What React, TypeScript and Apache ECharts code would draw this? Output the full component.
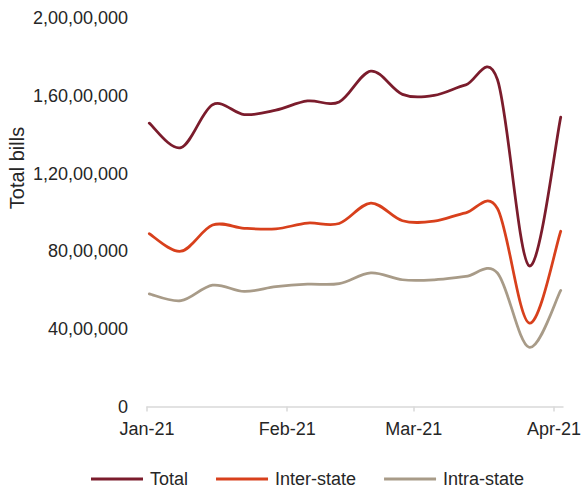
import React, { useEffect, useRef } from "react";
import * as echarts from "echarts";

const dates = [
  "2021-01-01", "2021-01-08", "2021-01-15", "2021-01-22", "2021-01-29",
  "2021-02-05", "2021-02-12", "2021-02-19", "2021-02-26",
  "2021-03-05", "2021-03-12", "2021-03-19", "2021-03-26", "2021-04-02",
];
const totalBills = [
  14600000, 13340000, 15550000, 15040000, 15270000, 15740000, 15690000,
  17280000, 16080000, 16030000, 16570000, 16850000, 7250000, 14910000,
];
const interState = [
  8900000, 8000000, 9350000, 9180000, 9150000, 9450000, 9430000,
  10480000, 9570000, 9550000, 9980000, 10200000, 4300000, 9030000,
];
const intraState = [
  5800000, 5450000, 6250000, 5930000, 6170000, 6300000, 6330000,
  6880000, 6530000, 6530000, 6700000, 6880000, 3050000, 5980000,
];
const monthTicks = ["2021-01-01", "2021-02-01", "2021-03-01", "2021-04-01"];
const monthLabels = ["Jan-21", "Feb-21", "Mar-21", "Apr-21"];
const axisStart = "2021-01-01";
const axisEnd = "2021-04-03";
const seriesNames = ["Total", "Inter-state", "Intra-state"];
const colors = ["#7B1C2C", "#D8401C", "#A89B88"];

const DAY = 86400000;
function dayIndex(s: string): number {
  const [y, m, d] = s.split("-").map(Number);
  const [y0, m0, d0] = axisStart.split("-").map(Number);
  return Math.round((Date.UTC(y, m - 1, d) - Date.UTC(y0, m0 - 1, d0)) / DAY);
}

function indian(v: number): string {
  const s = Math.round(v).toString();
  if (s.length <= 3) return s;
  const last3 = s.slice(-3);
  let rest = s.slice(0, -3);
  const parts: string[] = [];
  while (rest.length > 2) {
    parts.unshift(rest.slice(-2));
    rest = rest.slice(0, -2);
  }
  if (rest.length) parts.unshift(rest);
  return parts.join(",") + "," + last3;
}

// Smooth (Catmull-Rom style) path through pixel points given by the chart's scales
function smoothPath(pts: number[][]): string {
  const n = pts.length;
  let d = `M${pts[0][0]},${pts[0][1]}`;
  for (let i = 0; i < n - 1; i++) {
    const p0 = pts[Math.max(0, i - 1)];
    const p1 = pts[i];
    const p2 = pts[i + 1];
    const p3 = pts[Math.min(n - 1, i + 2)];
    const c1x = p1[0] + (p2[0] - p0[0]) / 6;
    const c1y = p1[1] + (p2[1] - p0[1]) / 6;
    const c2x = p2[0] - (p3[0] - p1[0]) / 6;
    const c2y = p2[1] - (p3[1] - p1[1]) / 6;
    d += ` C${c1x},${c1y} ${c2x},${c2y} ${p2[0]},${p2[1]}`;
  }
  return d;
}

export default function App() {
  const ref = useRef<HTMLDivElement>(null);
  useEffect(() => {
    if (!ref.current) return;
    const chart = echarts.init(ref.current, undefined, { renderer: "svg" });
    const font = "'Liberation Sans', Arial, sans-serif";
    const mk = (vals: number[]) => dates.map((d, i) => [dayIndex(d) + 0.5, vals[i]]);
    const allSeries = [totalBills, interState, intraState];
    const tickVals = monthTicks.map((d) => dayIndex(d));
    chart.setOption({
      animation: false,
      textStyle: { fontFamily: font },
      grid: { left: 147, right: 24, top: 18.3, bottom: 83.5, containLabel: false },
      legend: {
        left: 86,
        top: 465,
        itemWidth: 52,
        itemHeight: 3,
        itemGap: 28,
        icon: "rect",
        textStyle: { fontSize: 18, color: "#262626", fontFamily: font, padding: [0, 0, 0, 2] },
        data: seriesNames,
      },
      xAxis: {
        type: "value",
        min: 0,
        max: dayIndex(axisEnd),
        axisLine: { show: true, lineStyle: { color: "#D9D9D9", width: 1.5 } },
        axisTick: {
          show: true,
          length: 5,
          lineStyle: { color: "#D9D9D9", width: 1.5 },
          customValues: tickVals,
        },
        axisLabel: {
          fontSize: 18,
          color: "#262626",
          margin: 13,
          fontFamily: font,
          customValues: tickVals,
          formatter: (v: number) => {
            const i = tickVals.indexOf(Math.round(v));
            return i >= 0 ? monthLabels[i] : "";
          },
        },
        splitLine: { show: false },
      },
      yAxis: {
        type: "value",
        min: 0,
        max: 20000000,
        interval: 4000000,
        axisLine: { show: false },
        axisTick: { show: false },
        splitLine: { show: false },
        axisLabel: {
          fontSize: 18,
          color: "#262626",
          margin: 19,
          fontFamily: font,
          formatter: (v: number) => indian(v),
        },
      },
      graphic: [
        {
          type: "text",
          x: 17,
          y: 168,
          rotation: Math.PI / 2,
          style: {
            text: "Total bills",
            fontSize: 20,
            fontFamily: font,
            fill: "#262626",
            align: "center",
            verticalAlign: "middle",
          },
        },
      ],
      series: seriesNames.map((name, i) => {
        const data = mk(allSeries[i]);
        return {
          name,
          type: "custom",
          data,
          encode: { x: 0, y: 1 },
          itemStyle: { color: colors[i] },
          z: 3 - i,
          renderItem: (params: any, api: any) => {
            if (params.dataIndex !== 0) return null;
            const pts = data.map((p) => api.coord(p));
            return {
              type: "path",
              shape: { pathData: smoothPath(pts) },
              style: {
                fill: "none",
                stroke: colors[i],
                lineWidth: 2.75,
                lineCap: "round",
                lineJoin: "round",
              },
            };
          },
        };
      }),
    });
    return () => chart.dispose();
  }, []);
  return (
    <div
      ref={ref}
      style={{ position: "fixed", left: 0, top: 0, width: 587, height: 490, background: "#fff" }}
    />
  );
}
